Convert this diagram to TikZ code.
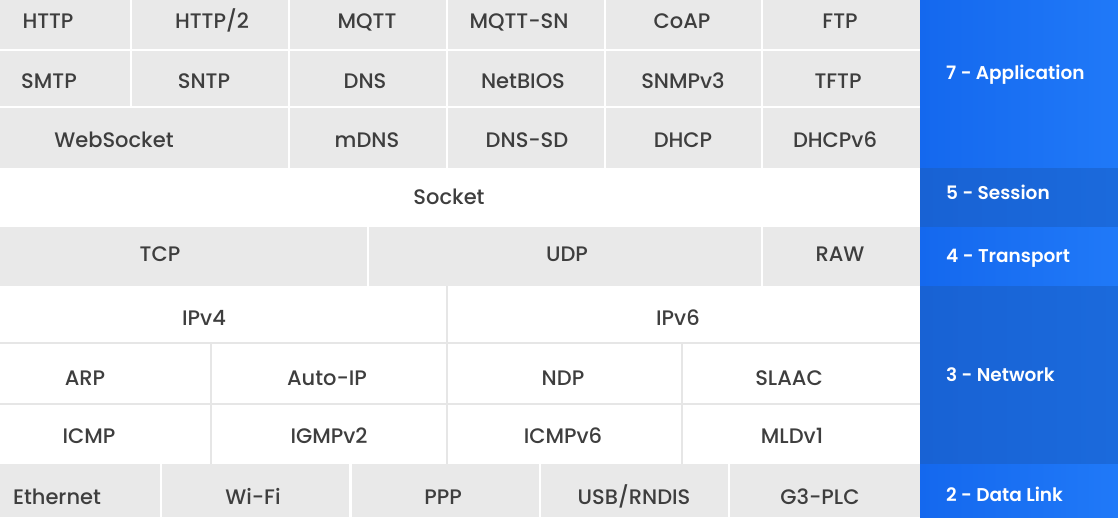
\documentclass[tikz,border=0pt]{standalone}
\usepackage{fontspec}
\setmainfont{Poppins}
\newfontfamily\cellfont{Poppins Medium}
\newfontfamily\labfont{Poppins SemiBold}
\definecolor{cellgray}{HTML}{E9E9E9}
\definecolor{sepgray}{HTML}{E6E6E6}
\definecolor{celltext}{HTML}{3E3E3E}
\definecolor{brightL}{HTML}{1468EE}
\definecolor{brightR}{HTML}{2079F8}
\definecolor{darkL}{HTML}{1862D4}
\definecolor{darkR}{HTML}{1B6ADC}
\begin{document}
\begin{tikzpicture}[x=1pt,y=-1pt,
  cell/.style={font=\cellfont\fontsize{21}{21}\selectfont, text=celltext, inner sep=0pt, text height=14.5pt, text depth=0pt, anchor=center},
  lab/.style={font=\labfont\fontsize{18.5}{18.5}\selectfont, text=white, inner sep=0pt, text height=13pt, text depth=0pt, anchor=west},
  wsep/.style={draw=white, line width=2.5pt},
  gsep/.style={draw=sepgray, line width=2pt}]
\useasboundingbox (0,0) rectangle (1118,517);
% backgrounds
\fill[white] (0,0) rectangle (920,517);
\fill[cellgray] (0,0) rectangle (920,168);
\fill[cellgray] (0,227) rectangle (920,286);
\fill[cellgray] (0,464) rectangle (920,517);
% blue panel
\shade[left color=brightL, right color=brightR] (920,0) rectangle (1118,168);
\shade[left color=darkL, right color=darkR] (920,168) rectangle (1118,227);
\shade[left color=brightL, right color=brightR] (920,227) rectangle (1118,286);
\shade[left color=darkL, right color=darkR] (920,286) rectangle (1118,464);
\shade[left color=brightL, right color=brightR] (920,464) rectangle (1118,517);
% application separators
\draw[wsep] (0,50) -- (920,50);
\draw[wsep] (0,107) -- (920,107);
\draw[wsep] (131,0) -- (131,107);
\foreach \x in {289,447,605,762} \draw[wsep] (\x,0) -- (\x,168);
% transport separators
\draw[wsep] (368,227) -- (368,286);
\draw[wsep] (762,227) -- (762,286);
% network separators
\draw[gsep] (0,343) -- (920,343);
\draw[gsep] (0,404) -- (920,404);
\draw[gsep] (447,286) -- (447,464);
\draw[gsep] (211,343) -- (211,464);
\draw[gsep] (682,343) -- (682,464);
% data link separators
\foreach \x in {161,350.5,540,729} \draw[wsep] (\x,464) -- (\x,517);
% application texts
\node[cell] (http) at (48,21) {HTTP};
\node[cell] (http2) at (212,21) {HTTP/2};
\node[cell] (mqtt) at (367,21) {MQTT};
\node[cell] (mqttsn) at (519,21) {MQTT-SN};
\node[cell] (coap) at (682,21) {CoAP};
\node[cell] (ftp) at (840,21) {FTP};
\node[cell] (smtp) at (49,81) {SMTP};
\node[cell] (sntp) at (204,81) {SNTP};
\node[cell] (dns) at (365,81) {DNS};
\node[cell] (netbios) at (523,81) {NetBIOS};
\node[cell] (snmp) at (683,81) {SNMPv3};
\node[cell] (tftp) at (838,81) {TFTP};
\node[cell] (websocket) at (114,140) {WebSocket};
\node[cell] (mdns) at (367,140) {mDNS};
\node[cell] (dnssd) at (527,140) {DNS-SD};
\node[cell] (dhcp) at (683,140) {DHCP};
\node[cell] (dhcpv6) at (835,140) {DHCPv6};
% session
\node[cell] (socket) at (449,197) {Socket};
% transport
\node[cell] (tcp) at (160,254) {TCP};
\node[cell] (udp) at (567,254) {UDP};
\node[cell] (raw) at (840,254) {RAW};
% network
\node[cell] (ipv4) at (204,318) {IPv4};
\node[cell] (ipv6) at (678,318) {IPv6};
\node[cell] (arp) at (85,378) {ARP};
\node[cell] (autoip) at (327,378) {Auto-IP};
\node[cell] (ndp) at (563,378) {NDP};
\node[cell] (slaac) at (789,378) {SLAAC};
\node[cell] (icmp) at (89,436) {ICMP};
\node[cell] (igmp) at (329,436) {IGMPv2};
\node[cell] (icmpv6) at (563,436) {ICMPv6};
\node[cell] (mld) at (792,436) {MLDv1};
% data link
\node[cell] (eth) at (57,497) {Ethernet};
\node[cell] (wifi) at (253,497) {Wi-Fi};
\node[cell] (ppp) at (443,497) {PPP};
\node[cell] (usb) at (634,497) {USB/RNDIS};
\node[cell] (g3) at (820,497) {G3-PLC};
% layer labels
\node[lab] (l7) at (946,73) {7 - Application};
\node[lab] (l5) at (946,193) {5 - Session};
\node[lab] (l4) at (946,256) {4 - Transport};
\node[lab] (l3) at (946,375) {3 - Network};
\node[lab] (l2) at (946,495) {2 - Data Link};
\end{tikzpicture}
\end{document}
